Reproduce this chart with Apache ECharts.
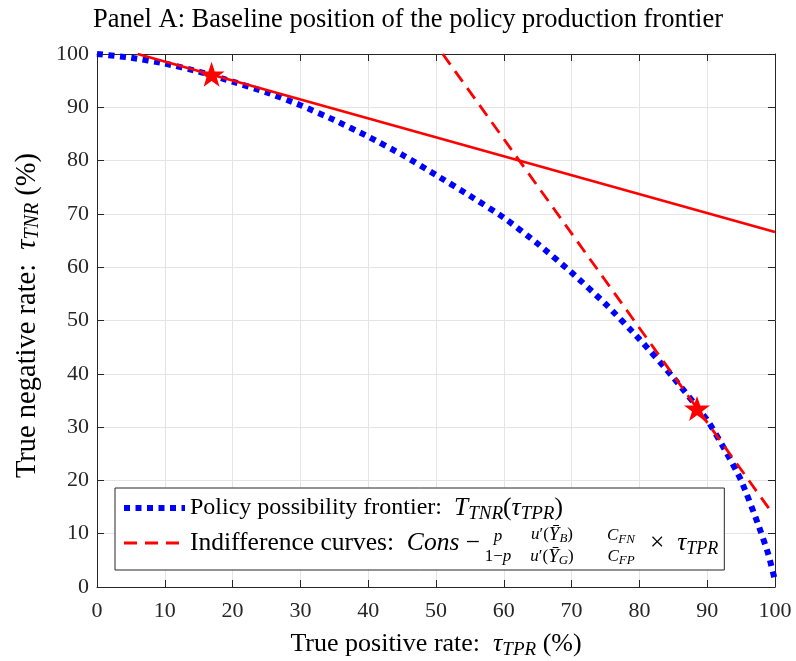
<!DOCTYPE html>
<html><head><meta charset="utf-8">
<script src="https://cdn.jsdelivr.net/npm/echarts@6/dist/echarts.min.js"></script>
<style>html,body{margin:0;padding:0;background:#fff}#c{width:796px;height:661px}</style>
</head><body><div id="c"></div>
<script>
// ---- data ----
const tprValues   = [0, 5, 10, 15, 20, 25, 30, 35, 40, 45, 50, 55, 60, 65, 70, 75, 80, 85, 90, 92.5, 95, 97.5, 99, 100];
const tnrFrontier = [100, 99.3, 98.2, 96.7, 94.8, 92.8, 90.4, 87.6, 84.5, 81.1, 77.3, 73.4, 69.3, 64.4, 59, 53.1, 46.5, 39.3, 31.3, 26, 20, 11.8, 6.2, 1.2];
const solidX = [6, 100];
const solidY = [100, 66.6];
const dashX  = [51, 99.3];
const dashY  = [100, 14.4];
const starX  = [16.9, 88.5];
const starY  = [96.2, 33.5];
const axisMin = 0, axisMax = 100, axisStep = 10;
const titleText = 'Panel A: Baseline position of the policy production frontier';
const seriesNames = ['Policy possibility frontier', 'Indifference curves', 'Tangent line', 'Optimum'];

const zip = (xs, ys) => xs.map((x, i) => [x, ys[i]]);
const FONT = 'Liberation Serif';
const INK = '#262626';
const BLUE = '#0000ff', RED = '#ff0000';
const STAR = 'path://M50,0 L61.8,35.1 L98.1,35.1 L68.8,56.8 L79.4,91.2 L50,70 L20.6,91.2 L31.2,56.8 L1.9,35.1 L38.2,35.1 Z';
const blueDots = {color: BLUE, width: 6, type: [6, 5.5], cap: 'butt'};
const redDash  = {color: RED, width: 2.8, type: [13, 8], cap: 'butt'};

const mathRich = (fs, sub, lh) => ({
  n: {fontFamily: FONT, fontSize: fs, color: '#000', verticalAlign: 'middle', lineHeight: lh},
  i: {fontFamily: FONT, fontSize: fs, fontStyle: 'italic', color: '#000', verticalAlign: 'middle', lineHeight: lh},
  s: {fontFamily: FONT, fontSize: sub, fontStyle: 'italic', color: '#000', verticalAlign: 'bottom', lineHeight: lh}
});

const chart = echarts.init(document.getElementById('c'), null, {renderer: 'canvas'});

const baseAxis = {
  min: axisMin, max: axisMax, interval: axisStep,
  axisLine: {show: true, onZero: false, lineStyle: {color: INK, width: 1}},
  axisTick: {show: true, inside: true, length: 7, lineStyle: {color: INK}},
};

const smallRich = {
  a: {fontFamily: FONT, fontSize: 17, fontStyle: 'italic', color: '#000', verticalAlign: 'middle', lineHeight: 20},
  r: {fontFamily: FONT, fontSize: 17, color: '#000', verticalAlign: 'middle', lineHeight: 20},
  y: {fontFamily: FONT, fontSize: 19, fontStyle: 'italic', color: '#000', verticalAlign: 'middle', lineHeight: 20},
  b: {fontFamily: FONT, fontSize: 13, fontStyle: 'italic', color: '#000', verticalAlign: 'bottom', lineHeight: 20}
};
const fracText = (txt, x, y) => ({
  type: 'text', x: x, y: y, z: 100,
  style: {text: txt, rich: smallRich, textAlign: 'center', textVerticalAlign: 'middle'}
});

const row1Math = mathRich(25.5, 19, 30);
const row2Rich = mathRich(25.5, 18, 30);
const legendRich = Object.assign(mathRich(24, 17, 30), {
  m1: row1Math.i, m1s: row1Math.s, m1n: row1Math.n,
  n2: row2Rich.n, i2: row2Rich.i, s2: row2Rich.s,
  ph: {width: 170, fontSize: 25, lineHeight: 30}
});

chart.setOption({
  animation: false,
  backgroundColor: '#fff',
  title: {
    text: titleText, left: 88, top: 2,
    textStyle: {fontFamily: FONT, fontSize: 26.5, fontWeight: 'normal', color: '#000'}
  },
  grid: {left: 97, right: 21, top: 54, bottom: 74, containLabel: false, outerBoundsMode: 'none'},
  xAxis: [
    Object.assign({}, baseAxis, {
      type: 'value', position: 'bottom',
      axisLabel: {fontFamily: FONT, fontSize: 22, color: INK, margin: 13},
      splitLine: {show: true, lineStyle: {color: '#e4e4e4', width: 1}},
      name: '{n|True positive rate:  }{i|τ}{s|TPR}{n| (%)}',
      nameLocation: 'middle', nameGap: 42,
      nameTextStyle: {rich: mathRich(26, 19, 30)}
    }),
    Object.assign({}, baseAxis, {
      type: 'value', position: 'top', axisLabel: {show: false}, splitLine: {show: false}
    })
  ],
  yAxis: [
    Object.assign({}, baseAxis, {
      type: 'value', position: 'left',
      axisLabel: {fontFamily: FONT, fontSize: 22, color: INK, margin: 8},
      splitLine: {show: true, lineStyle: {color: '#e4e4e4', width: 1}},
      name: '{n|True negative rate:  }{i|τ}{s|TNR}{n| (%)}',
      nameLocation: 'middle', nameGap: 54, nameRotate: 90,
      nameTextStyle: {rich: mathRich(28.5, 20, 30), padding: [0, 0, 0, 10]}
    }),
    Object.assign({}, baseAxis, {
      type: 'value', position: 'right', axisLabel: {show: false}, splitLine: {show: false}
    })
  ],
  legend: {
    data: [
      {name: seriesNames[0], lineStyle: blueDots, itemStyle: {opacity: 0}},
      {name: seriesNames[1], lineStyle: redDash, itemStyle: {opacity: 0}}
    ],
    orient: 'vertical', left: 115, top: 488,
    backgroundColor: '#fff', borderColor: INK, borderWidth: 1,
    padding: [7, 6, 12, 6], itemGap: 7, itemWidth: 61, itemHeight: 14,
    formatter: function (name) {
      if (name === seriesNames[0]) return '{n|Policy possibility frontier:  }{m1|T}{m1s|TNR}{m1n|(}{m1|τ}{m1s|TPR}{m1n|)}';
      return '{n2|Indifference curves:  }{i2|Cons}{n2| −}{ph|}{n2|×  }{i2|τ}{s2|TPR}';
    },
    textStyle: {rich: legendRich}
  },
  graphic: [
    fracText('{a|p}', 498, 537),
    fracText('{r|1−}{a|p}', 498, 557),
    fracText('{a|u}{r|′(}{y|Ȳ}{b|B}{r|)}', 552, 535),
    fracText('{a|u}{r|′(}{y|Ȳ}{b|G}{r|)}', 552, 557),
    fracText('{a|C}{b|FN}', 621, 536),
    fracText('{a|C}{b|FP}', 621, 557)
  ],
  series: [
    {
      name: seriesNames[0], type: 'line', data: zip(tprValues, tnrFrontier),
      symbol: 'none', smooth: 0.2, clip: false,
      lineStyle: blueDots, itemStyle: {color: BLUE}, z: 3
    },
    {
      name: seriesNames[1], type: 'line', data: zip(dashX, dashY),
      symbol: 'none', lineStyle: redDash, itemStyle: {color: RED}, z: 4
    },
    {
      name: seriesNames[2], type: 'line', data: zip(solidX, solidY),
      symbol: 'none', lineStyle: {color: RED, width: 2.8, type: 'solid'},
      itemStyle: {color: RED}, z: 4
    },
    {
      name: seriesNames[3], type: 'scatter', data: zip(starX, starY),
      symbol: STAR, symbolSize: [26, 25], itemStyle: {color: RED, opacity: 1}, z: 5
    }
  ]
});
</script></body></html>
